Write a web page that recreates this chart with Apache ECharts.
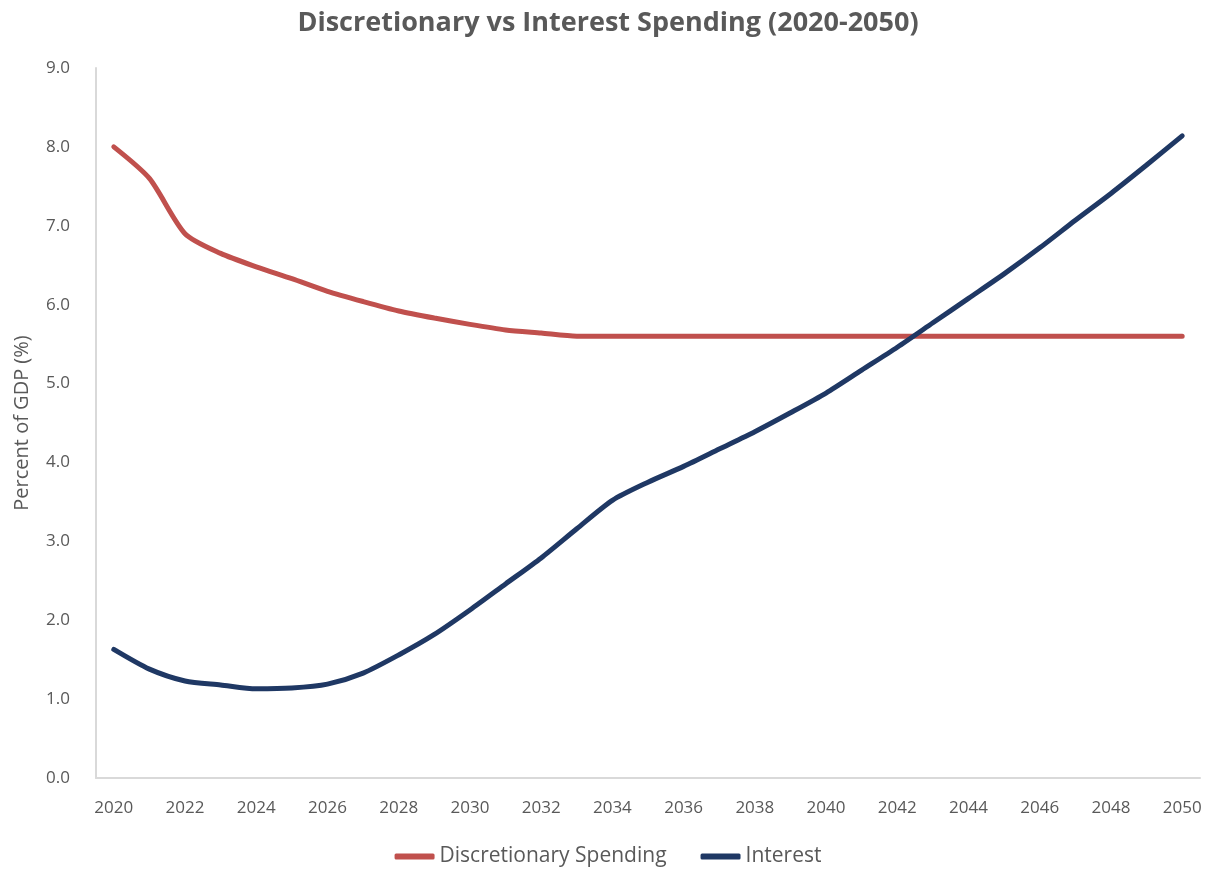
<!DOCTYPE html>
<html>
<head>
<meta charset="utf-8">
<script src="https://cdn.jsdelivr.net/npm/echarts@6/dist/echarts.min.js"></script>
<style>
  html, body { margin: 0; padding: 0; background: #fff; }
  #chart { width: 1216px; height: 874px; }
</style>
</head>
<body>
<div id="chart"></div>
<script>
// years 2020..2050
const years = [];
for (let y = 2020; y <= 2050; y++) years.push(String(y));

const discretionary = [8.0, 7.6, 6.9, 6.65, 6.48, 6.33, 6.17, 6.04, 5.92, 5.83, 5.75, 5.68, 5.64, 5.6,
  5.6, 5.6, 5.6, 5.6, 5.6, 5.6, 5.6, 5.6, 5.6, 5.6, 5.6, 5.6, 5.6, 5.6, 5.6, 5.6, 5.6];
const interest = [1.63, 1.38, 1.23, 1.18, 1.13, 1.14, 1.19, 1.33, 1.56, 1.82, 2.13, 2.46, 2.79, 3.16,
  3.52, 3.75, 3.95, 4.17, 4.39, 4.63, 4.88, 5.17, 5.46, 5.77, 6.08, 6.39, 6.72, 7.07, 7.41, 7.77, 8.14];

const fontColor = '#595959';
const fontFam = '"Open Sans", sans-serif';

let myChart = echarts.init(document.getElementById('chart'));
myChart.setOption({
    animation: false,
    title: {
        text: 'Discretionary vs Interest Spending (2020-2050)',
        left: 'center',
        top: 5,
        textStyle: {color: fontColor, fontSize: 27, fontWeight: 'bold', fontFamily: fontFam}
    },
    grid: {left: 96, right: 16, top: 68, bottom: 96, containLabel: false, outerBoundsMode: 'none'},
    legend: {
        bottom: 2,
        left: 'center',
        itemWidth: 40,
        itemHeight: 6,
        itemGap: 34,
        icon: 'roundRect',
        textStyle: {color: fontColor, fontSize: 21, fontFamily: fontFam},
        data: ['Discretionary Spending', 'Interest']
    },
    xAxis: {
        type: 'category',
        boundaryGap: true,
        data: years,
        axisLine: {show: true, lineStyle: {color: '#d9d9d9', width: 2}},
        axisTick: {show: false},
        axisLabel: {
            color: fontColor, fontSize: 17, fontFamily: fontFam, margin: 22,
            interval: 1
        },
        splitLine: {show: false}
    },
    yAxis: {
        type: 'value',
        min: 0,
        max: 9,
        interval: 1,
        name: 'Percent of GDP (%)',
        nameLocation: 'middle',
        nameGap: 64,
        nameTextStyle: {color: fontColor, fontSize: 20, fontFamily: fontFam},
        axisLine: {show: true, lineStyle: {color: '#d9d9d9', width: 2}},
        axisTick: {show: false},
        axisLabel: {
            color: fontColor, fontSize: 17, fontFamily: fontFam, margin: 26,
            formatter: v => v.toFixed(1)
        },
        splitLine: {show: false}
    },
    series: [
        {
            name: 'Discretionary Spending',
            type: 'line',
            data: discretionary,
            smooth: 0.25,
            showSymbol: false,
            lineStyle: {color: '#c0504d', width: 5, cap: 'round'},
            itemStyle: {color: '#c0504d'}
        },
        {
            name: 'Interest',
            type: 'line',
            data: interest,
            smooth: 0.25,
            showSymbol: false,
            lineStyle: {color: '#1f3864', width: 5, cap: 'round'},
            itemStyle: {color: '#1f3864'}
        }
    ]
});
window.addEventListener('resize', () => myChart.resize());
</script>
</body>
</html>
